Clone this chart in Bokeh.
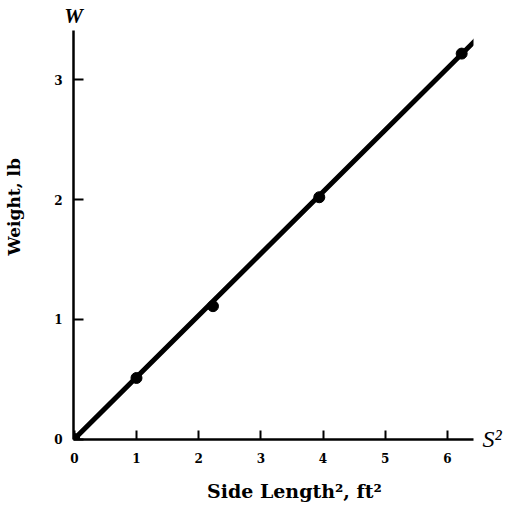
from bokeh.plotting import figure
from bokeh.models import Range1d, FixedTicker, LinearAxis, ColumnDataSource
from bokeh.embed import file_html
from bokeh.resources import INLINE

# Data
side_len_sq = [0.0, 1.0, 2.23, 3.94, 6.23]      # S^2, ft^2
weight_lb = [0.0, 0.51, 1.11, 2.02, 3.22]       # W, lb
fit_side_len_sq = [0.0, 6.45]
fit_weight_lb = [0.0, 3.33]
x_ticks = [0, 1, 2, 3, 4, 5, 6]
y_ticks = [0, 1, 2, 3]

x_title = "Side Length\u00b2, ft\u00b2"
y_title = "Weight, lb"
x_symbol = "S\u00b2"
y_symbol = "W"

SERIF = "DejaVu Serif"

p = figure(width=520, height=510, output_backend="svg", toolbar_location=None,
           x_range=Range1d(-0.013, 6.42), y_range=Range1d(-0.004, 3.413),
           min_border_left=73, min_border_right=47, min_border_top=29,
           min_border_bottom=71)
p.outline_line_color = None
p.grid.visible = False
p.background_fill_color = "white"
p.border_fill_color = "white"

for ax in (p.xaxis[0], p.yaxis[0]):
    ax.axis_line_width = 2.5
    ax.axis_line_color = "black"
    ax.major_tick_line_width = 2
    ax.major_tick_line_color = "black"
    ax.major_tick_out = 0
    ax.minor_tick_line_color = None
    ax.major_label_text_font = SERIF
    ax.major_label_text_font_style = "bold"
    ax.major_label_text_font_size = "12px"
    ax.major_label_text_color = "black"

p.xaxis.ticker = FixedTicker(ticks=x_ticks)
p.yaxis.ticker = FixedTicker(ticks=y_ticks)
p.xaxis.major_tick_in = 9
p.yaxis.major_tick_in = 10
p.xaxis.major_label_standoff = 13
p.yaxis.major_label_standoff = 11

src = ColumnDataSource(dict(x=side_len_sq, y=weight_lb))
fit = ColumnDataSource(dict(x=fit_side_len_sq, y=fit_weight_lb))
p.line("x", "y", source=fit, line_width=5, line_color="black", line_cap="round")
p.scatter("x", "y", source=src, size=11, fill_color="black", line_color="black")


def text_axis(tick, text, font, style, size, standoff):
    """An axis without line or ticks, used only to place one text beside the frame."""
    ax = LinearAxis(ticker=FixedTicker(ticks=[tick]),
                    major_label_overrides={tick: text})
    ax.axis_line_color = None
    ax.major_tick_line_color = None
    ax.minor_tick_line_color = None
    ax.major_tick_in = 0
    ax.major_tick_out = 0
    ax.major_label_text_font = font
    ax.major_label_text_font_style = style
    ax.major_label_text_font_size = size
    ax.major_label_text_color = "black"
    ax.major_label_standoff = standoff
    return ax


# Variable symbols at the ends of the axes
p.add_layout(text_axis(-0.013, y_symbol, "Liberation Serif", "bold italic", "21px", 3), "above")
p.add_layout(text_axis(0, x_symbol, "Liberation Serif", "italic", "24px", 9), "right")

# Axis titles
y_title_axis = text_axis(1.94, y_title, SERIF, "bold", "17px", 27)
y_title_axis.major_label_orientation = "parallel"
p.add_layout(y_title_axis, "left")
p.add_layout(text_axis(3.54, x_title, SERIF, "bold", "19px", 14), "below")

open("out.html", "w").write(file_html(p, INLINE))
